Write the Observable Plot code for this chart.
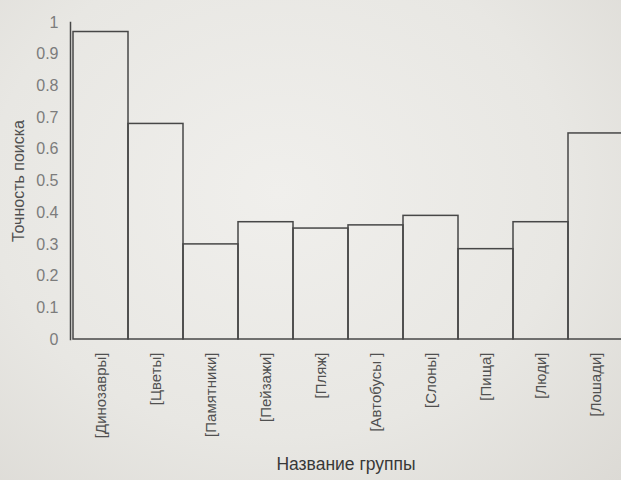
<!DOCTYPE html>
<html>
<head>
<meta charset="utf-8">
<script src="https://cdn.jsdelivr.net/npm/d3@7"></script>
<script src="https://cdn.jsdelivr.net/npm/@observablehq/plot@0.6"></script>
<style>
html, body { margin: 0; padding: 0; overflow: hidden; }
body {
  width: 621px; height: 480px;
  background: radial-gradient(ellipse at 45% 40%, #f0efec 0%, #e8e7e3 60%, #dcdad5 100%);
}
</style>
</head>
<body>
<div id="chart"></div>
<script>
const groups = ["[Динозавры]", "[Цветы]", "[Памятники]", "[Пейзажи]", "[Пляж]", "[Автобусы ]", "[Слоны]", "[Пища]", "[Люди]", "[Лошади]"];
const precision = [0.97, 0.68, 0.30, 0.37, 0.35, 0.36, 0.39, 0.285, 0.37, 0.65];
const yTicks = [0, 0.1, 0.2, 0.3, 0.4, 0.5, 0.6, 0.7, 0.8, 0.9, 1];
const yTickLabels = ["0", "0.1", "0.2", "0.3", "0.4", "0.5", "0.6", "0.7", "0.8", "0.9", "1"];
const yTitle = "Точность поиска";
const xTitle = "Название группы";

const data = groups.map((g, i) => ({group: g, value: precision[i]}));

const plot = Plot.plot({
  width: 621,
  height: 480,
  marginLeft: 70,
  marginTop: 22,
  marginBottom: 141,
  marginRight: 0,
  style: {background: "transparent", fontFamily: "'Liberation Sans', Arial, sans-serif"},
  x: {domain: groups, range: [70, 626], padding: 0, axis: null},
  y: {domain: [0, 1], axis: null},
  marks: [
    Plot.frame({anchor: "left", stroke: "#474747", strokeWidth: 1.5}),
    Plot.barY(data, {x: "group", y: "value", fill: "none", stroke: "#474747", strokeWidth: 1.5}),
    Plot.axisY({
      ticks: yTicks,
      tickFormat: (d) => yTickLabels[yTicks.indexOf(d)],
      tickSize: 0,
      tickPadding: 12,
      fontSize: 16,
      color: "#7c7c7c",
      label: null
    }),
    Plot.axisX({
      tickRotate: -90,
      tickSize: 0,
      tickPadding: 13,
      fontSize: 15,
      color: "#505050",
      label: null
    }),
    Plot.text([yTitle], {frameAnchor: "left", textAnchor: "middle", rotate: -90, dx: -52, fontSize: 16, fill: "#505050"}),
    Plot.text([xTitle], {frameAnchor: "bottom", dy: 130, fontSize: 17.5, fill: "#383838"})
  ]
});
document.getElementById("chart").appendChild(plot);
</script>
</body>
</html>
